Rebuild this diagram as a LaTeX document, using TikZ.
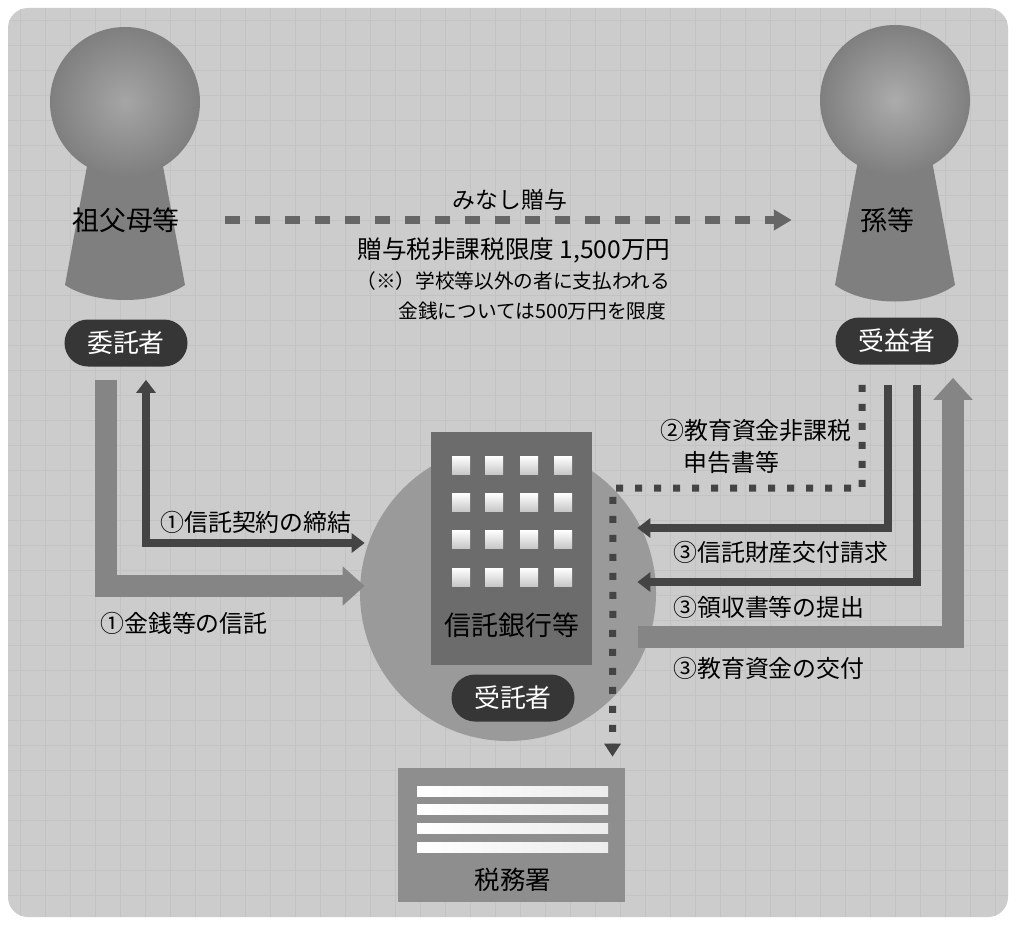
\documentclass[tikz,border=0pt]{standalone}
\usepackage{fontspec}
\setmainfont{Noto Sans CJK JP}
\usetikzlibrary{arrows.meta}

\definecolor{PaperGray}{HTML}{CCCCCC}
\definecolor{GridGray}{HTML}{C3C3C3}
\definecolor{FigGray}{HTML}{7F7F7F}
\definecolor{PillDark}{HTML}{363636}
\definecolor{ArrowLight}{HTML}{858585}
\definecolor{ArrowDark}{HTML}{444444}
\definecolor{GiftGray}{HTML}{666666}
\definecolor{CircleGray}{HTML}{9A9A9A}
\definecolor{BuildGray}{HTML}{6C6C6C}
\definecolor{WinGray}{HTML}{C8C8C8}
\definecolor{TaxGray}{HTML}{8E8E8E}

\begin{document}
\begin{tikzpicture}[x=0.2mm, y=-0.2mm,
    pill/.style={fill=PillDark, text=white, rounded corners=4.7mm, minimum width=24.6mm,
      minimum height=9.4mm, inner sep=0pt, font=\fontsize{14.7}{17}\selectfont},
    nametext/.style={inner sep=0pt, font=\fontsize{15.3}{18}\selectfont},
    steptext/.style={inner sep=0pt, anchor=west, font=\fontsize{13.6}{16}\selectfont},
    notetext/.style={inner sep=0pt, anchor=west, font=\fontsize{11.2}{14}\selectfont},
    fundarrow/.style={draw=ArrowLight, line width=4.4mm, -{Triangle[length=4.4mm, width=7.6mm]}},
    dealline/.style={draw=ArrowDark, line width=1.6mm},
    dealtip/.style={-{Triangle[length=2.6mm, width=3.8mm]}},
    giftarrow/.style={draw=GiftGray, line width=1.6mm, dash pattern=on 3mm off 3mm,
      -{Triangle[length=3.6mm, width=4mm]}},
    docarrow/.style={draw=ArrowDark, line width=1.4mm, dash pattern=on 1.4mm off 2.4mm,
      -{Triangle[length=2.6mm, width=3.2mm]}}]

    % Paper and faint grid
    \fill[white] (0,0) rectangle (1016,925);
    \fill[PaperGray, rounded corners=4mm] (8,8) rectangle (1008,917);
    \begin{scope}
        \clip[rounded corners=4mm] (8,8) rectangle (1008,917);
        \foreach \gx in {20,45,...,1000}
            \draw[GridGray, line width=0.3pt] (\gx,8) -- (\gx,917);
        \foreach \gy in {20,45,...,910}
            \draw[GridGray, line width=0.3pt] (8,\gy) -- (1008,\gy);
    \end{scope}

    % Grandparent figure
    \fill[FigGray] (90,150) -- (65,285) .. controls (95,305) and (155,305) .. (185,285) -- (160,150) -- cycle;
    \shade[inner color=FigGray!70!white, outer color=FigGray] (125,102) circle [radius=15mm];
    \node[nametext] (sofubo) at (126,220) {祖父母等};
    \node[pill] (itaku) at (126,343) {委託者};

    % Grandchild figure
    \fill[FigGray] (860,150) -- (835,285) .. controls (865,307) and (925,307) .. (955,285) -- (930,150) -- cycle;
    \shade[inner color=FigGray!65!white, outer color=FigGray] (895,100) circle [radius=15mm];
    \node[nametext] (mago) at (887,220) {孫等};
    \node[pill] (jueki) at (897,341) {受益者};

    % Deemed gift
    \draw[giftarrow, shorten <=9mm, shorten >=13.6mm] (sofubo.east) -- (mago.west);
    \node[font=\fontsize{13}{16}\selectfont, inner sep=0pt] (minashi) at (510,200) {みなし贈与};
    \node[font=\fontsize{14}{16}\selectfont, inner sep=0pt] (gendo) at (514,250) {贈与税非課税限度 1,500万円};
    \node[notetext] (note1) at (356,281) {（※）学校等以外の者に支払われる};
    \node[notetext] (note2) at (398,311) {金銭については500万円を限度};

    % Trust bank
    \node[circle, fill=CircleGray, minimum size=59.2mm, inner sep=0pt] (bankbg) at (508,593) {};
    \node[fill=BuildGray, minimum width=32.2mm, minimum height=46.6mm, inner sep=0pt] (bank) at (511.5,548.5) {};
    \foreach \wx in {461,494,529,563}
        \foreach \wy in {465,502,539,577}
            \shade[top color=white, bottom color=WinGray] (\wx-9,\wy-9) rectangle (\wx+9,\wy+9);
    \node[nametext] (banklabel) at (512,625) {信託銀行等};
    \node[pill] (jutaku) at (513,698) {受託者};

    % Tax office
    \node[fill=TaxGray, minimum width=45.4mm, minimum height=26.8mm, inner sep=0pt] (zeimu) at (511.5,835) {};
    \foreach \sy in {791,809,828,847}
        \shade[left color=white, right color=white!85!gray] (417,\sy-5) rectangle (608,\sy+5);
    \node[nametext, font=\fontsize{14.5}{17}\selectfont] (zeimulabel) at (513,880) {税務署};

    % Settlor side: contract and money
    \draw[fundarrow] ([shift={(-20,13)}]itaku.south) |- ([shift={(5,-7)}]bankbg.west);
    \draw[dealline, {Triangle[length=2.6mm, width=3.8mm]}-{Triangle[length=2.6mm, width=3.8mm]}]
        ([shift={(20,13)}]itaku.south) |- ([shift={(5,-50)}]bankbg.west);
    \node[steptext] (keiyaku) at (160,522) {①信託契約の締結};
    \node[steptext] (kinsen) at (100,623) {①金銭等の信託};

    % Beneficiary side: filings, claims and payouts
    \coordinate (dotCorner) at (613,488);
    \draw[docarrow] ([shift={(-35,20)}]jueki.south) |- (dotCorner) -- ([shift={(101,-11)}]zeimu.north);
    \draw[dealline, dealtip] ([shift={(-9,20)}]jueki.south) |- ([shift={(-19,-65)}]bankbg.east);
    \draw[dealline, dealtip] ([shift={(20,20)}]jueki.south) |- ([shift={(-19,-11)}]bankbg.east);
    \draw[fundarrow] ([shift={(-18,44)}]bankbg.east) -| ([shift={(56,13)}]jueki.south);
    \node[steptext] (shinkoku1) at (660,430) {②教育資金非課税};
    \node[steptext] (shinkoku2) at (683,462) {申告書等};
    \node[steptext] (seikyu) at (673,552) {③信託財産交付請求};
    \node[steptext] (teishutsu) at (673,607) {③領収書等の提出};
    \node[steptext] (kofu) at (673,668) {③教育資金の交付};
\end{tikzpicture}
\end{document}
